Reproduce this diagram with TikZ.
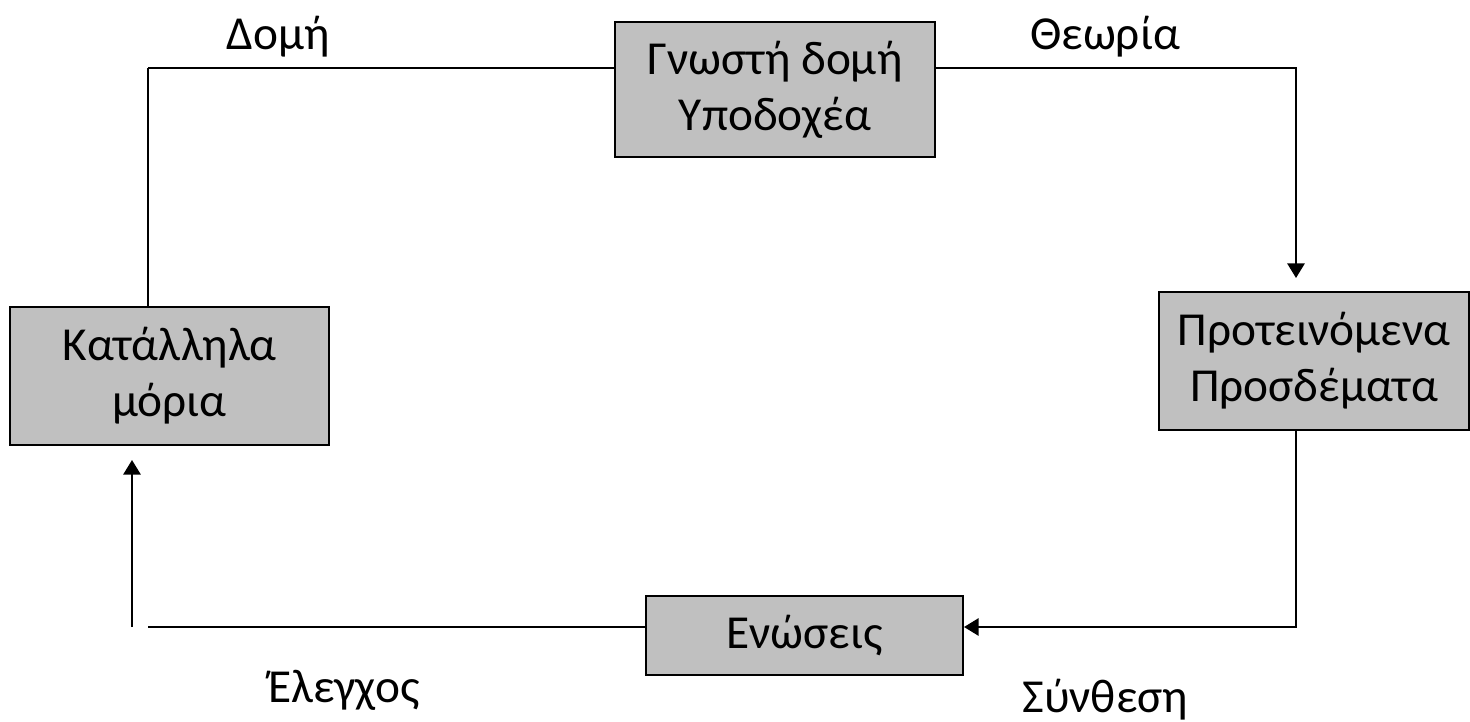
\documentclass[tikz,border=0pt]{standalone}
\usepackage{fontspec}
\setmainfont{Carlito}
\usetikzlibrary{arrows.meta}
\definecolor{boxgray}{HTML}{C0C0C0}
\tikzset{
  box/.style={draw=black, line width=1.5pt, fill=boxgray, inner sep=0pt, align=center, font=\fontsize{35.5}{42}\selectfont},
  lbl/.style={font=\fontsize{35.5}{42}\selectfont, anchor=base, inner sep=0pt},
  conn/.style={line width=1.5pt},
  arr/.style={line width=1.5pt, -{Triangle[length=11pt,width=13pt]}}
}
\begin{document}
\begin{tikzpicture}[x=0.75pt,y=-0.75pt]
\useasboundingbox (0,0) rectangle (1470,721);
\node[box, minimum width=240pt, minimum height=101.25pt] (top) at (775,89.5) {Γνωστή δομή\\Υποδοχέα};
\node[box, minimum width=232.5pt, minimum height=103.5pt] (right) at (1314,361) {Προτεινόμενα\\Προσδέματα};
\node[box, minimum width=239.25pt, minimum height=103.5pt] (left) at (169.5,376) {Κατάλληλα\\μόρια};
\node[box, minimum width=237.75pt, minimum height=59.25pt] (bot) at (804.5,635.5) {Ενώσεις};
\coordinate (tl) at (148,68);
\coordinate (tr) at (1296,68);
\coordinate (rarr) at (1296,278);
\coordinate (br) at (1296,627);
\coordinate (bl) at (148,627);
\coordinate (as) at (132,627);
\coordinate (ae) at (132,460);
\draw[conn] (tl) -- (top.west |- tl);
\draw[conn] (tl) -- (left.north -| tl);
\draw[arr] (top.east |- tr) -- (tr) -- (rarr);
\draw[arr] (right.south -| br) -- (br) -- (bot.east |- br);
\draw[conn] (bot.west |- bl) -- (bl);
\draw[arr] (as) -- (ae);
\node[lbl] (l1) at (278,49) {Δομή};
\node[lbl] (l2) at (1105,49) {Θεωρία};
\node[lbl] (l3) at (344,702) {Έλεγχος};
\node[lbl] (l4) at (1105,712) {Σύνθεση};
\end{tikzpicture}
\end{document}
